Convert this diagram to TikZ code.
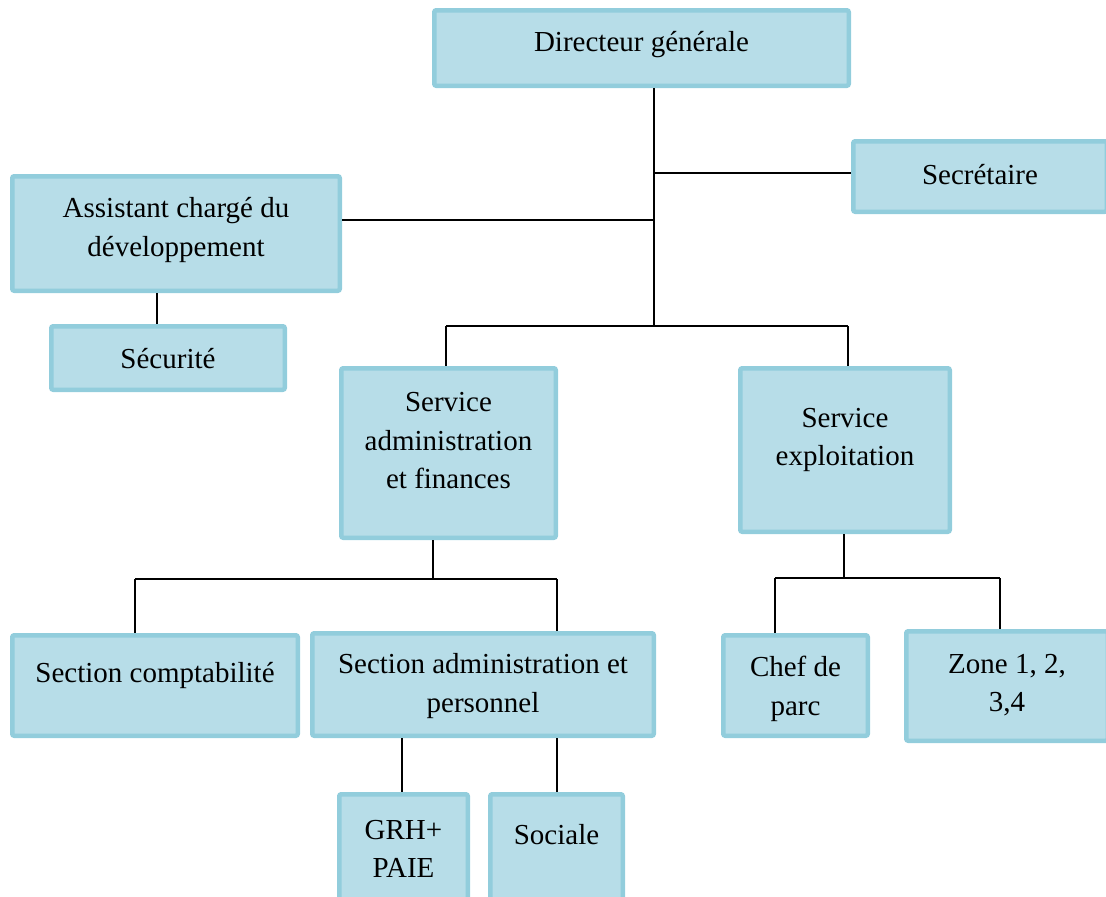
\documentclass[tikz,border=0pt]{standalone}
\usepackage{fontspec}
\setmainfont{Liberation Serif}
\definecolor{boxfill}{HTML}{B7DDE8}
\definecolor{boxline}{HTML}{92CDDC}
\begin{document}
\begin{tikzpicture}[x=1pt,y=-1pt,
  box/.style={draw=boxline,fill=boxfill,line width=4.5pt,rounded corners=2pt,inner sep=0pt},
  txt/.style={align=center,inner sep=0pt,font=\fontsize{29}{38.5}\selectfont},
  conn/.style={draw=black,line width=1.8pt}]
\useasboundingbox (0,0) rectangle (1106,897);
% boxes (outer size minus line width)
\node[box,minimum width=414.5pt,minimum height=75.5pt] (dg) at (641.5,48) {};
\node[box,minimum width=253.5pt,minimum height=70.5pt] (sec) at (980,176.5) {};
\node[box,minimum width=327.5pt,minimum height=114.5pt] (asst) at (176,233.5) {};
\node[box,minimum width=233.5pt,minimum height=63.5pt] (secu) at (168,358) {};
\node[box,minimum width=214.5pt,minimum height=169.5pt] (saf) at (448.5,453) {};
\node[box,minimum width=209.5pt,minimum height=163.5pt] (se) at (845,450) {};
\node[box,minimum width=285.5pt,minimum height=100.5pt] (sc) at (155,685.5) {};
\node[box,minimum width=341.5pt,minimum height=102.5pt] (sap) at (483,684.5) {};
\node[box,minimum width=128.5pt,minimum height=105.5pt] (grh) at (403.5,847) {};
\node[box,minimum width=132.5pt,minimum height=105.5pt] (soc) at (556.5,847) {};
\node[box,minimum width=144.5pt,minimum height=100.5pt] (cdp) at (795.5,685.5) {};
\node[box,minimum width=201.5pt,minimum height=109.5pt] (zone) at (1007,686) {};
% texts
\node[txt] (dgt) at (641.5,45) {Directeur générale};
\node[txt] (sect) at (980,175) {Secrétaire};
\node[txt] (asstt) at (176,230) {Assistant chargé du\\développement};
\node[txt] (secut) at (168,359) {Sécurité};
\node[txt] (saft) at (448.5,441) {Service\\administration\\et finances};
\node[txt] (set) at (845,440) {Service\\exploitation};
\node[txt] (sct) at (155,675) {Section comptabilité};
\node[txt] (sapt) at (483,686) {Section administration et\\personnel};
\node[txt] (grht) at (403.5,849) {GRH+\\PAIE};
\node[txt] (soct) at (556.5,835) {Sociale};
\node[txt] (cdpt) at (795.5,689) {Chef de\\parc};
\node[txt] (zonet) at (1007,685) {Zone 1, 2,\\3,4};
% junction coordinates
\coordinate (dgo) at (654,88);
\coordinate (j1) at (654,326);
\coordinate (asto) at (342,220);
\coordinate (secl) at (851,173);
\coordinate (asb) at (157,293);
\coordinate (jl) at (446,326);
\coordinate (jr) at (848,326);
\coordinate (safo) at (433,540);
\coordinate (j2) at (433,579);
\coordinate (j2l) at (135,579);
\coordinate (j2r) at (557,579);
\coordinate (sapb1) at (402,738);
\coordinate (sapb2) at (557,738);
\coordinate (seo) at (844,534);
\coordinate (j3) at (844,578);
\coordinate (j3l) at (775,578);
\coordinate (j3r) at (1000,578);
% connectors
\draw[conn] (dgo) -- (j1);
\draw[conn] (secl) -- (secl -| j1);
\draw[conn] (asto) -- (asto -| j1);
\draw[conn] (asb) -- (asb |- secu.north);
\draw[conn] (jl) -- (jr);
\draw[conn] (jl) -- (jl |- saf.north);
\draw[conn] (jr) -- (jr |- se.north);
\draw[conn] (safo) -- (j2);
\draw[conn] (j2l) -- (j2r);
\draw[conn] (j2l) -- (j2l |- sc.north);
\draw[conn] (j2r) -- (j2r |- sap.north);
\draw[conn] (sapb1) -- (sapb1 |- grh.north);
\draw[conn] (sapb2) -- (sapb2 |- soc.north);
\draw[conn] (seo) -- (j3);
\draw[conn] (j3l) -- (j3r);
\draw[conn] (j3l) -- (j3l |- cdp.north);
\draw[conn] (j3r) -- (j3r |- zone.north);
\end{tikzpicture}
\end{document}
